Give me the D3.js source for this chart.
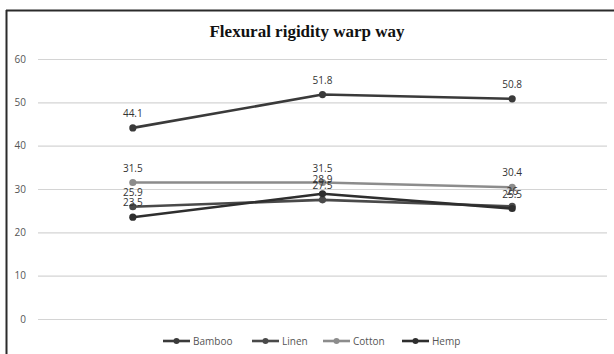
<!DOCTYPE html>
<html>
<head>
<meta charset="utf-8">
<script src="https://cdn.jsdelivr.net/npm/d3@7"></script>
<style>
  html, body { margin: 0; padding: 0; background: #fff; }
  svg { display: block; }
</style>
</head>
<body>
<svg id="chart" width="614" height="354"></svg>
<script>
// Flexural rigidity (warp way) for four fibre fabrics at three sample points
const categories = ["A", "B", "C"];
const seriesNames = ["Bamboo", "Linen", "Cotton", "Hemp"];
const bamboo = [44.1, 51.8, 50.8];
const linen = [25.9, 27.5, 26.0];
const cotton = [31.5, 31.5, 30.4];
const hemp = [23.5, 28.9, 25.5];
const yTicks = [0, 10, 20, 30, 40, 50, 60];
const titleText = "Flexural rigidity warp way";

const seriesColors = ["#3a3a3a", "#4a4a4a", "#8c8c8c", "#2e2e2e"];
const series = [bamboo, linen, cotton, hemp].map((values, i) => ({
  name: seriesNames[i], values, color: seriesColors[i]
}));

const svg = d3.select("#chart");
const W = 614, H = 354;
const plot = { left: 38, right: 607, top: 59, bottom: 319 };

// Chart frame: top and left edges
svg.append("line").attr("x1", 6).attr("x2", W).attr("y1", 10.5).attr("y2", 10.5)
  .attr("stroke", "#2b2b2b").attr("stroke-width", 2);
svg.append("line").attr("x1", 6.5).attr("x2", 6.5).attr("y1", 10).attr("y2", H)
  .attr("stroke", "#2b2b2b").attr("stroke-width", 2);

// Title
svg.append("text")
  .attr("x", 307).attr("y", 37)
  .attr("text-anchor", "middle")
  .attr("font-family", "'Liberation Serif', 'DejaVu Serif', serif")
  .attr("font-weight", "bold")
  .attr("font-size", 17)
  .attr("fill", "#111")
  .text(titleText);

const x = d3.scaleBand().domain(categories).range([plot.left, plot.right]);
const y = d3.scaleLinear().domain([0, 60]).range([plot.bottom, plot.top]);
const cx = c => x(c) + x.bandwidth() / 2;

// Gridlines and value axis
const yAxis = d3.axisLeft(y).tickValues(yTicks).tickSize(-(plot.right - plot.left)).tickPadding(12);
const gAxis = svg.append("g").attr("transform", `translate(${plot.left},0)`).call(yAxis);
gAxis.select(".domain").remove();
gAxis.selectAll(".tick line").attr("stroke", "#d4d4d4").attr("stroke-width", 1.2);
gAxis.selectAll(".tick text")
  .attr("font-family", "'Open Sans', 'Noto Sans', sans-serif")
  .attr("font-size", 10)
  .attr("fill", "#555");

// Lines, markers and data labels
const line = d3.line().x((d, i) => cx(categories[i])).y(d => y(d));
const gSeries = svg.append("g");
series.forEach(s => {
  const g = gSeries.append("g");
  g.append("path").attr("d", line(s.values))
    .attr("fill", "none").attr("stroke", s.color).attr("stroke-width", 2.6)
    .attr("stroke-linejoin", "round");
  g.selectAll("circle").data(s.values).join("circle")
    .attr("cx", (d, i) => cx(categories[i])).attr("cy", d => y(d))
    .attr("r", 3.6).attr("fill", s.color);
});
series.forEach(s => {
  gSeries.append("g").selectAll("text").data(s.values).join("text")
    .attr("x", (d, i) => cx(categories[i]))
    .attr("y", d => y(d) - 11)
    .attr("text-anchor", "middle")
    .attr("font-family", "'Open Sans', 'Noto Sans', sans-serif")
    .attr("font-size", 10)
    .attr("fill", "#333")
    .text(d => d3.format("")(d));
});

// Legend
const legend = svg.append("g");
const legendItemsX = [163, 252, 323, 402];
series.forEach((s, i) => {
  const g = legend.append("g").attr("transform", `translate(${legendItemsX[i]},341)`);
  g.append("line").attr("x1", 0).attr("x2", 27).attr("y1", 0).attr("y2", 0)
    .attr("stroke", s.color).attr("stroke-width", 2.6);
  g.append("circle").attr("cx", 13.5).attr("cy", 0).attr("r", 3).attr("fill", s.color);
  g.append("text").attr("x", 30).attr("y", 3.5)
    .attr("font-family", "'Open Sans', 'Noto Sans', sans-serif")
    .attr("font-size", 10).attr("fill", "#555")
    .text(s.name);
});
</script>
</body>
</html>
